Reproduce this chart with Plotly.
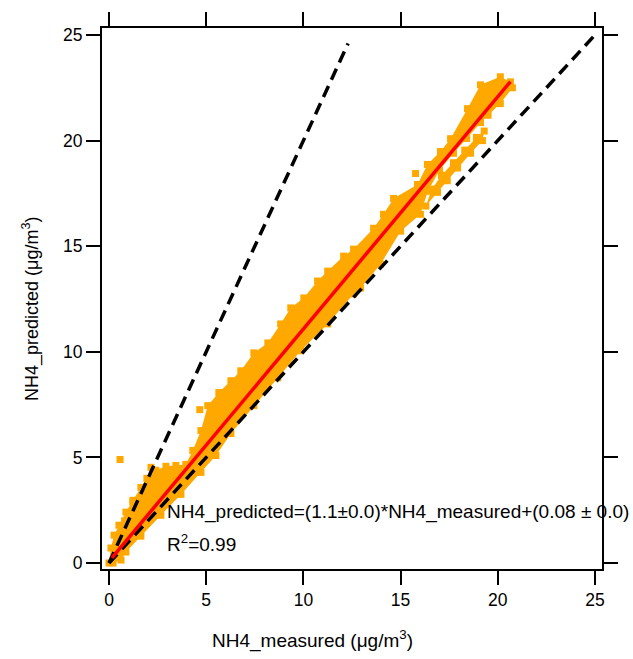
import plotly.graph_objects as go

# ---- data ----
# upper edge of the dense band of points (NH4_measured, NH4_predicted)
upper_x = [0.00, 0.10, 0.26, 0.51, 0.87, 1.23, 1.64, 1.95, 2.41, 2.93, 3.44, 3.95, 4.31, 4.73,
           5.08, 5.65, 6.27, 6.78, 7.45, 8.17, 8.83, 9.35, 10.02, 10.73, 11.25, 12.07, 12.58,
           13.61, 14.12, 14.64, 15.87, 16.38, 17.05, 17.57, 18.44, 19.11, 20.13, 20.65]
upper_y = [0.00, 0.71, 1.32, 1.79, 2.41, 2.97, 3.58, 4.01, 4.39, 4.58, 4.62, 4.67, 5.33, 6.27,
           7.45, 8.07, 8.63, 9.10, 9.95, 10.42, 11.32, 12.08, 12.55, 13.35, 13.82, 14.53, 14.86,
           15.85, 16.51, 17.26, 17.92, 18.87, 19.48, 20.09, 21.51, 22.64, 23.02, 22.78]
# lower edge of the main band (from the top end back to the origin)
lower_x = [20.75, 20.13, 19.50, 19.11, 18.40, 17.72, 17.00, 16.40, 16.02, 15.00, 13.97, 12.94,
           12.58, 11.25, 9.86, 8.68, 7.45, 6.27, 5.50, 4.73, 3.70, 2.67, 1.64, 0.87, 0.62, 0.21]
lower_y = [22.50, 21.75, 21.20, 20.85, 20.10, 19.40, 18.60, 17.60, 16.51, 15.71, 14.15, 13.02,
           12.74, 11.32, 10.05, 8.77, 7.45, 6.13, 5.09, 4.29, 3.25, 2.26, 1.27, 0.52, 0.14, 0.00]
# separate lower arm of points near the top end
arm_x = [16.30, 16.90, 17.40, 17.93, 18.60, 19.21, 19.30, 18.90, 18.30, 17.72, 17.10, 16.60]
arm_y = [16.90, 17.55, 18.10, 18.70, 19.40, 20.00, 20.45, 20.15, 19.55, 18.95, 18.35, 17.70]
# isolated points
out_x = [0.57, 2.16, 1.23, 4.67, 15.77, 0.80, 16.00]
out_y = [4.90, 4.53, 2.88, 7.26, 18.44, 2.00, 17.30]

fit_slope = 1.1
fit_intercept = 0.08
fit_x = [0.15, 20.65]
fit_y = [fit_slope * v + fit_intercept for v in fit_x]

one_to_one_x = [0, 25]
one_to_one_y = [0, 25]
two_to_one_x = [0, 12.3]
two_to_one_y = [0, 24.6]

tick_vals = [0, 5, 10, 15, 20, 25]
tick_text = ["0", "5", "10", "15", "20", "25"]

ORANGE = "#FFA800"
FONT = "Arial, Liberation Sans, sans-serif"

fig = go.Figure()

# dense band (filled outline of the overlapping squares)
fig.add_trace(go.Scatter(x=upper_x + lower_x, y=upper_y + lower_y, mode="lines",
                         fill="toself", fillcolor=ORANGE, line=dict(width=0, color=ORANGE),
                         hoverinfo="skip", showlegend=False))
fig.add_trace(go.Scatter(x=arm_x, y=arm_y, mode="lines", fill="toself", fillcolor=ORANGE,
                         line=dict(width=0, color=ORANGE), hoverinfo="skip", showlegend=False))
# individual square markers
fig.add_trace(go.Scatter(x=upper_x + lower_x + arm_x + out_x,
                         y=upper_y + lower_y + arm_y + out_y,
                         mode="markers",
                         marker=dict(symbol="square", size=7, color=ORANGE, line=dict(width=0)),
                         showlegend=False))

dash = "12px,7px"
fig.add_trace(go.Scatter(x=one_to_one_x, y=one_to_one_y, mode="lines",
                         line=dict(color="black", width=3.5, dash=dash), showlegend=False))
fig.add_trace(go.Scatter(x=two_to_one_x, y=two_to_one_y, mode="lines",
                         line=dict(color="black", width=3.5, dash=dash), showlegend=False))
fig.add_trace(go.Scatter(x=fit_x, y=fit_y, mode="lines",
                         line=dict(color="#FF0000", width=3.5), showlegend=False))

axis_common = dict(showline=True, linewidth=2, linecolor="black", mirror="allticks",
                   ticks="outside", ticklen=14, tickwidth=2, tickcolor="black",
                   showgrid=False, zeroline=False, tickvals=tick_vals, ticktext=tick_text,
                   tickfont=dict(family=FONT, size=17.5, color="black"))

ML, MR, MT, MB = 102, 31, 26, 90
W, H = 633, 659
plot_w = W - ML - MR
plot_h = H - MT - MB

fig.update_layout(
    width=W, height=H, autosize=False,
    margin=dict(l=ML, r=MR, t=MT, b=MB),
    paper_bgcolor="white", plot_bgcolor="white",
    xaxis=dict(range=[-0.36, 25.36], **axis_common),
    yaxis=dict(range=[-0.283, 25.33], **axis_common),
    font=dict(family=FONT, color="black"),
)

fig.add_annotation(x=2.90, y=2.4, xref="x", yref="y", xanchor="left", yanchor="middle",
                   text="NH4_predicted=(1.1±0.0)*NH4_measured+(0.08 ± 0.0)",
                   showarrow=False, font=dict(family=FONT, size=19, color="black"))
fig.add_annotation(x=2.90, y=0.95, xref="x", yref="y", xanchor="left", yanchor="middle",
                   text="R<sup>2</sup>=0.99",
                   showarrow=False, font=dict(family=FONT, size=19, color="black"))

# axis titles placed in pixel terms (converted to paper fractions)
fig.add_annotation(x=(312 - ML) / plot_w, y=(H - MB - 640) / plot_h, xref="paper", yref="paper",
                   text="NH4_measured (μg/m<sup>3</sup>)", showarrow=False,
                   xanchor="center", yanchor="middle",
                   font=dict(family=FONT, size=19, color="black"))
fig.add_annotation(x=(31 - ML) / plot_w, y=(H - MB - 308) / plot_h, xref="paper", yref="paper",
                   text="NH4_predicted (μg/m<sup>3</sup>)", textangle=-90, showarrow=False,
                   xanchor="center", yanchor="middle",
                   font=dict(family=FONT, size=18, color="black"))

fig.write_html("out.html")
